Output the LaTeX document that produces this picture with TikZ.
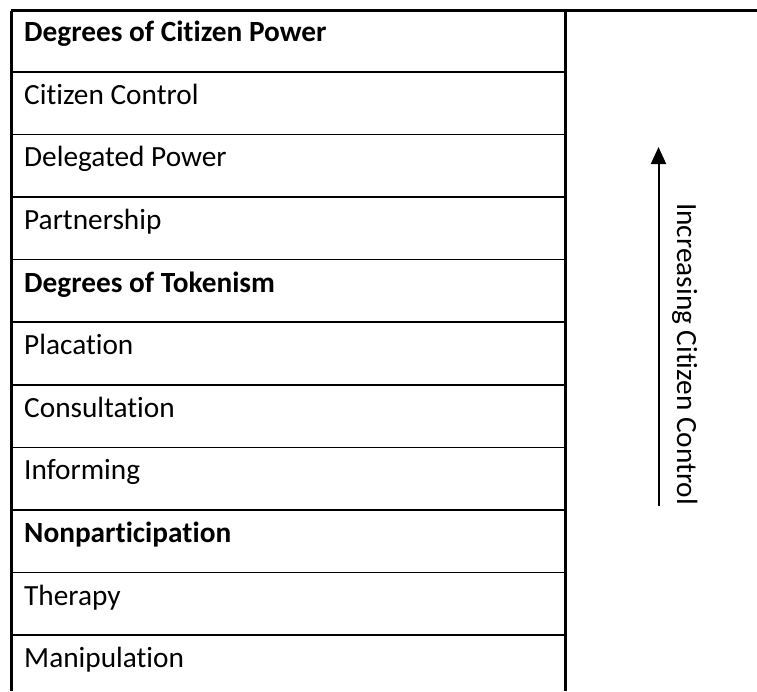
\documentclass[tikz,border=0pt]{standalone}
\usepackage{fontspec}
\setmainfont{Carlito}[Ligatures=NoCommon]
\usetikzlibrary{arrows.meta}
\begin{document}
\begin{tikzpicture}[x=1pt,y=-1pt,
  outer/.style={line width=2.8pt},
  rule/.style={line width=1.6pt},
  label/.style={anchor=base west,inner sep=0pt,font=\fontsize{29.3}{35}\selectfont},
  head/.style={label,font=\fontsize{29.3}{35}\selectfont\bfseries}]
\useasboundingbox (0,0) rectangle (757,691);
% frame: top rule, left edge, column divider
\coordinate (tl) at (11.2,10.6);
\coordinate (tr) at (757,10.6);
\coordinate (bl) at (11.2,691);
\coordinate (dt) at (565.5,10.6);
\coordinate (db) at (565.5,691);
\draw[outer] (tl) -- (tr);
\draw[outer] (tl) -- (bl);
\draw[outer] (dt) -- (db);
% row separators
\foreach \k in {0,...,9}{
  \coordinate (sl\k) at (11.2,71.7+62.6*\k);
  \coordinate (sr\k) at (565.5,71.7+62.6*\k);
  \draw[rule] (sl\k) -- (sr\k);
}
% ladder rungs
\node[head]  (r0)  at (24,41.7) {Degrees of Citizen Power};
\foreach \i/\t in {1/Citizen Control,2/Delegated Power,3/Partnership,
                   5/Placation,6/Consultation,7/Informing,
                   9/Therapy,10/Manipulation}{
  \node[label] (r\i) at (24,9.1+62.6*\i+32.5) {\t};
}
\node[head] (r4) at (24,9.1+62.6*4+32.5) {Degrees of Tokenism};
\node[head] (r8) at (24,9.1+62.6*8+32.5) {Nonparticipation};
% direction arrow
\coordinate (ab) at (658.5,506);
\coordinate (at) at (658.5,147);
\draw[line width=2pt,-{Triangle[width=15pt,length=17pt]}] (ab) -- (at);
\node[label,rotate=-90] (dir) at (677,203) {Increasing Citizen Control};
\end{tikzpicture}
\end{document}
